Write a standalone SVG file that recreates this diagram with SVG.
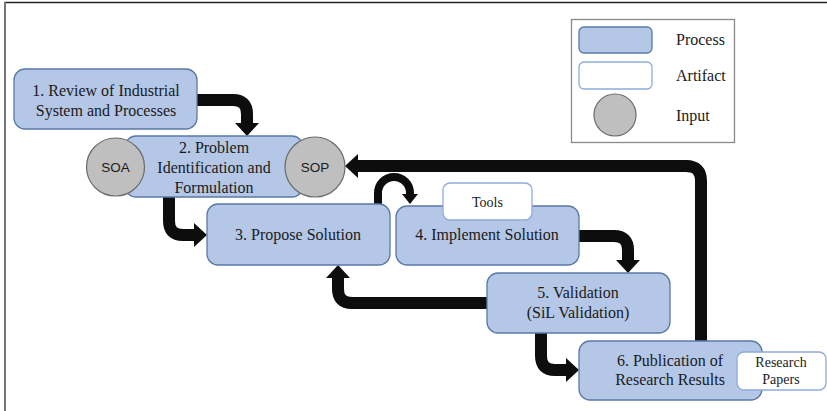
<svg xmlns="http://www.w3.org/2000/svg" width="827" height="411" viewBox="0 0 827 411">
<style>
.proc{fill:#B4C7E7;stroke:#5A7AA6;stroke-width:1.3}
.art{fill:#FFFFFF;stroke:#8FAADC;stroke-width:1.3}
.inp{fill:#BFBFBF;stroke:#6B6B6B;stroke-width:1.2}
.t{font-family:"Liberation Serif","Times New Roman",serif;font-size:16px;fill:#1a1a1a;text-anchor:middle}
.ts{font-family:"Liberation Serif","Times New Roman",serif;font-size:14px;fill:#1a1a1a;text-anchor:middle}
.tl{font-family:"Liberation Serif","Times New Roman",serif;font-size:16px;fill:#1a1a1a}
.tc{font-family:"Liberation Sans",Arial,sans-serif;font-size:13.5px;fill:#1a1a1a;text-anchor:middle}
.c{fill:none;stroke:#0D0D0D;stroke-width:12}
.cl{fill:none;stroke:#0D0D0D;stroke-width:8}
</style>
<defs>
<marker id="ah" markerUnits="userSpaceOnUse" markerWidth="13" markerHeight="24" viewBox="0 0 13 24" refX="0" refY="12" orient="auto">
<path d="M0,0 L13,12 L0,24 Z" fill="#0D0D0D"/>
</marker>
<marker id="ahs" markerUnits="userSpaceOnUse" markerWidth="10" markerHeight="16" viewBox="0 0 10 16" refX="0" refY="8" orient="auto">
<path d="M0,0 L10,8 L0,16 Z" fill="#0D0D0D"/>
</marker>
</defs>
<rect width="827" height="411" fill="#FFFFFF"/>
<line x1="4" y1="2.5" x2="827" y2="2.5" stroke="#222" stroke-width="1.5"/>
<line x1="5" y1="2" x2="5" y2="411" stroke="#777" stroke-width="2"/>

<g id="connectors">
<path class="c" d="M197,100 H233 Q247,100 247,114 V123" marker-end="url(#ah)"/>
<path class="c" d="M169,197 V221 Q169,235 183,235 H194" marker-end="url(#ah)"/>
<path class="cl" d="M378,204 V193 A16,16 0 0 1 410,193 V194" marker-end="url(#ahs)"/>
<path class="c" d="M579,236 H614 Q628,236 628,250 V260" marker-end="url(#ah)"/>
<path class="c" d="M487,303 H352 Q338,303 338,289 V278" marker-end="url(#ah)"/>
<path class="c" d="M541,333 V356 Q541,370 555,370 H566" marker-end="url(#ah)"/>
<path class="c" d="M701,341 V181 Q701,166 686,166 H358" marker-end="url(#ah)"/>
</g>

<g id="legend">
<rect x="571.5" y="19.5" width="163" height="123" fill="#FFFFFF" stroke="#8A8A8A" stroke-width="1.3"/>
<rect class="proc" x="579" y="27" width="73" height="26" rx="5"/>
<rect class="art" x="579" y="62" width="73" height="27" rx="5"/>
<circle class="inp" cx="615" cy="115" r="21"/>
<text class="tl" x="676" y="45">Process</text>
<text class="tl" x="676" y="81">Artifact</text>
<text class="tl" x="676" y="121">Input</text>
</g>

<g id="n1">
<rect class="proc" x="14" y="69" width="183" height="60" rx="11"/>
<text class="t" x="106" y="96">1. Review of Industrial</text>
<text class="t" x="106" y="116">System and Processes</text>
</g>

<g id="n2">
<rect class="proc" x="125" y="136" width="178" height="61" rx="11"/>
<text class="t" x="214" y="153">2. Problem</text>
<text class="t" x="214" y="173">Identification and</text>
<text class="t" x="214" y="193">Formulation</text>
</g>

<g id="soa">
<circle class="inp" cx="115.5" cy="167" r="29"/>
<text class="tc" x="115.5" y="172">SOA</text>
</g>

<g id="sop">
<circle class="inp" cx="315" cy="167" r="30"/>
<text class="tc" x="315" y="172">SOP</text>
</g>

<g id="n3">
<rect class="proc" x="207" y="204" width="183" height="61" rx="11"/>
<text class="t" x="298" y="240">3. Propose Solution</text>
</g>

<g id="n4">
<rect class="proc" x="396" y="206" width="183" height="59" rx="11"/>
<text class="t" x="487" y="240">4. Implement Solution</text>
</g>

<g id="tools">
<rect class="art" x="443" y="183" width="89" height="37" rx="7"/>
<text class="ts" x="487.5" y="207">Tools</text>
</g>

<g id="n5">
<rect class="proc" x="487" y="273" width="183" height="60" rx="11"/>
<text class="t" x="578" y="298">5. Validation</text>
<text class="t" x="578" y="318">(SiL Validation)</text>
</g>

<g id="n6">
<rect class="proc" x="579" y="341" width="183" height="59" rx="11"/>
<text class="t" x="670" y="366">6. Publication of</text>
<text class="t" x="670" y="385">Research Results</text>
</g>

<g id="papers">
<rect class="art" x="737" y="352" width="89" height="38" rx="7"/>
<text class="ts" x="781" y="367">Research</text>
<text class="ts" x="781" y="384">Papers</text>
</g>
</svg>
